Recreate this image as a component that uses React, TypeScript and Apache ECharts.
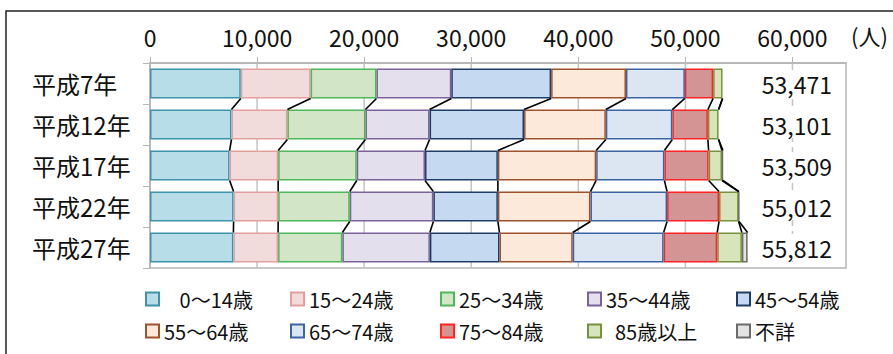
import React, { useEffect, useRef } from "react";
import * as echarts from "echarts";

const FONT = '"Noto Sans CJK JP", "Noto Sans", sans-serif';

// 年次（縦軸カテゴリ）
const YEARS = ["平成7年", "平成12年", "平成17年", "平成22年", "平成27年"];

// 横軸目盛
const X_TICKS = [0, 10000, 20000, 30000, 40000, 50000, 60000];

// 年齢階級別人口（人）: 平成7年, 12年, 17年, 22年, 27年
const AGE_0_14 = [8480, 7610, 7434, 7807, 7790];
const AGE_15_24 = [6520, 5220, 4534, 4161, 4170];
const AGE_25_34 = [6150, 7290, 7341, 6688, 6004];
const AGE_35_44 = [6990, 5990, 6372, 7807, 8175];
const AGE_45_54 = [9320, 8820, 6808, 6026, 6501];
const AGE_55_64 = [6990, 7640, 9178, 8647, 6838];
const AGE_65_74 = [5500, 6210, 6373, 7154, 8490];
const AGE_75_84 = [2640, 3320, 4132, 4852, 5004];
const AGE_85_UP = [881, 1001, 1249, 1829, 2304];
const AGE_UNKNOWN = [0, 0, 88, 41, 536];

const GROUPS = [
  { name: "0～14歳", values: AGE_0_14, fill: "#b7dde8", border: "#3a93aa", pad: "\u2007 " },
  { name: "15～24歳", values: AGE_15_24, fill: "#f2dcdb", border: "#e39f9d", pad: "" },
  { name: "25～34歳", values: AGE_25_34, fill: "#d2e5c6", border: "#4cb85a", pad: "" },
  { name: "35～44歳", values: AGE_35_44, fill: "#e4dfec", border: "#7b6299", pad: "" },
  { name: "45～54歳", values: AGE_45_54, fill: "#c5d9f1", border: "#1f3d66", pad: "" },
  { name: "55～64歳", values: AGE_55_64, fill: "#fde9d9", border: "#a0522d", pad: "" },
  { name: "65～74歳", values: AGE_65_74, fill: "#dce6f2", border: "#3a64a3", pad: "" },
  { name: "75～84歳", values: AGE_75_84, fill: "#d49494", border: "#ff2222", pad: "" },
  { name: "85歳以上", values: AGE_85_UP, fill: "#d8e4bc", border: "#76933c", pad: "  " },
  { name: "不詳", values: AGE_UNKNOWN, fill: "#e3e3e3", border: "#6b6b6b", pad: "" },
];

const LEGEND_LEFT = [145, 290, 440, 587, 736];
const LEGEND_TOP = [289, 321];

const BAR_GAP = 0.27;

export default function App() {
  const ref = useRef<HTMLDivElement>(null);

  useEffect(() => {
    if (!ref.current) return;
    const chart = echarts.init(ref.current, null, { renderer: "svg" });

    // 累積値（各年・各階級の右端）
    const cum: number[][] = YEARS.map((_, i) => {
      let s = 0;
      return GROUPS.map((g) => (s += g.values[i]));
    });
    const totals = cum.map((row) => row[row.length - 1]);

    const grey = "#b5b5b5";

    const barSeries = GROUPS.map((g) => ({
      type: "bar",
      name: g.name,
      stack: "total",
      yAxisIndex: 0,
      barCategoryGap: `${BAR_GAP * 100}%`,
      z: 2,
      itemStyle: { color: g.fill, borderColor: g.border, borderWidth: 1.5 },
      data: g.values.map((v) => (v === 0 ? null : v)),
    }));

    const option: any = {
      animation: false,
      textStyle: { fontFamily: FONT },
      grid: {
        left: 150,
        top: 63,
        right: 47,
        bottom: 86,
        show: true,
        borderColor: grey,
        borderWidth: 1.5,
      },
      xAxis: {
        type: "value",
        position: "top",
        min: 0,
        max: 65000,
        interval: 10000,
        axisLine: { show: true, lineStyle: { color: grey, width: 1.5 } },
        axisTick: {
          show: true,
          length: 6,
          customValues: X_TICKS,
          lineStyle: { color: grey, width: 1 },
        },
        axisLabel: {
          customValues: X_TICKS,
          formatter: (v: number) => v.toLocaleString("en-US"),
          margin: 15,
          fontSize: 23,
          color: "#111",
          fontFamily: FONT,
        },
        splitLine: { show: false },
      },
      yAxis: [
        {
          type: "category",
          data: YEARS,
          inverse: true,
          axisLine: { show: true, lineStyle: { color: grey, width: 1.5 } },
          axisTick: { show: true, length: 7, lineStyle: { color: grey, width: 1 } },
          axisLabel: {
            align: "left",
            margin: 118,
            fontSize: 24,
            color: "#111",
            fontFamily: FONT,
          },
        },
        {
          type: "category",
          data: totals.map((t) => t.toLocaleString("en-US")),
          inverse: true,
          position: "right",
          z: 5,
          axisLine: { show: false },
          axisTick: { show: false },
          axisLabel: {
            inside: true,
            margin: 12,
            fontSize: 23,
            color: "#111",
            fontFamily: FONT,
            backgroundColor: "#fff",
            padding: [2, 2],
          },
        },
      ],
      legend: GROUPS.map((g, k) => ({
        data: [g.name],
        left: LEGEND_LEFT[k % 5],
        top: LEGEND_TOP[Math.floor(k / 5)],
        padding: 0,
        icon: "rect",
        itemWidth: 13,
        itemHeight: 13,
        itemGap: 0,
        selectedMode: false,
        formatter: (n: string) => g.pad + n,
        textStyle: { fontSize: 20, color: "#111", fontFamily: FONT },
      })),
      series: [
        // 縦の目盛線（60,000 は破線）
        {
          type: "custom",
          z: 0,
          silent: true,
          encode: { x: 0, y: 1 },
          data: X_TICKS.slice(1).map((v) => [v, 0]),
          renderItem: (params: any, api: any) => {
            const v = api.value(0);
            const x = api.coord([v, 0])[0];
            const cs = params.coordSys;
            return {
              type: "line",
              shape: { x1: x, y1: cs.y, x2: x, y2: cs.y + cs.height },
              style: {
                stroke: "#c4c4c4",
                lineWidth: 1.5,
                lineDash: v === 60000 ? [7, 5] : null,
              },
            };
          },
        },
        ...barSeries,
        // 区分線（各年の階級境界を結ぶ）
        {
          type: "custom",
          z: 3,
          silent: true,
          encode: { x: 0, y: 1 },
          data: YEARS.slice(0, -1).map((_, i) => [0, i]),
          renderItem: (params: any, api: any) => {
            const i = params.dataIndex;
            const h = api.size([0, 1])[1] * (1 - BAR_GAP);
            const children = cum[i].map((c, j) => {
              const a = api.coord([c, i]);
              const b = api.coord([cum[i + 1][j], i + 1]);
              return {
                type: "line",
                shape: { x1: a[0], y1: a[1] + h / 2, x2: b[0], y2: b[1] - h / 2 },
                style: { stroke: "#000", lineWidth: 1.6 },
              };
            });
            return { type: "group", children };
          },
        },
      ],
      graphic: [
        {
          type: "rect",
          silent: true,
          z: -1,
          shape: { x: 6, y: 11, width: 1000, height: 500 },
          style: { fill: "none", stroke: "#222", lineWidth: 1.5 },
        },
        {
          type: "text",
          silent: true,
          x: 851,
          y: 35,
          style: {
            text: "(人)",
            fontSize: 22,
            fontFamily: FONT,
            fill: "#111",
            verticalAlign: "middle",
          },
        },
      ],
    };

    chart.setOption(option);
    return () => chart.dispose();
  }, []);

  return (
    <div
      ref={ref}
      style={{ position: "fixed", left: 0, top: 0, width: 893, height: 354, background: "#fff" }}
    />
  );
}
